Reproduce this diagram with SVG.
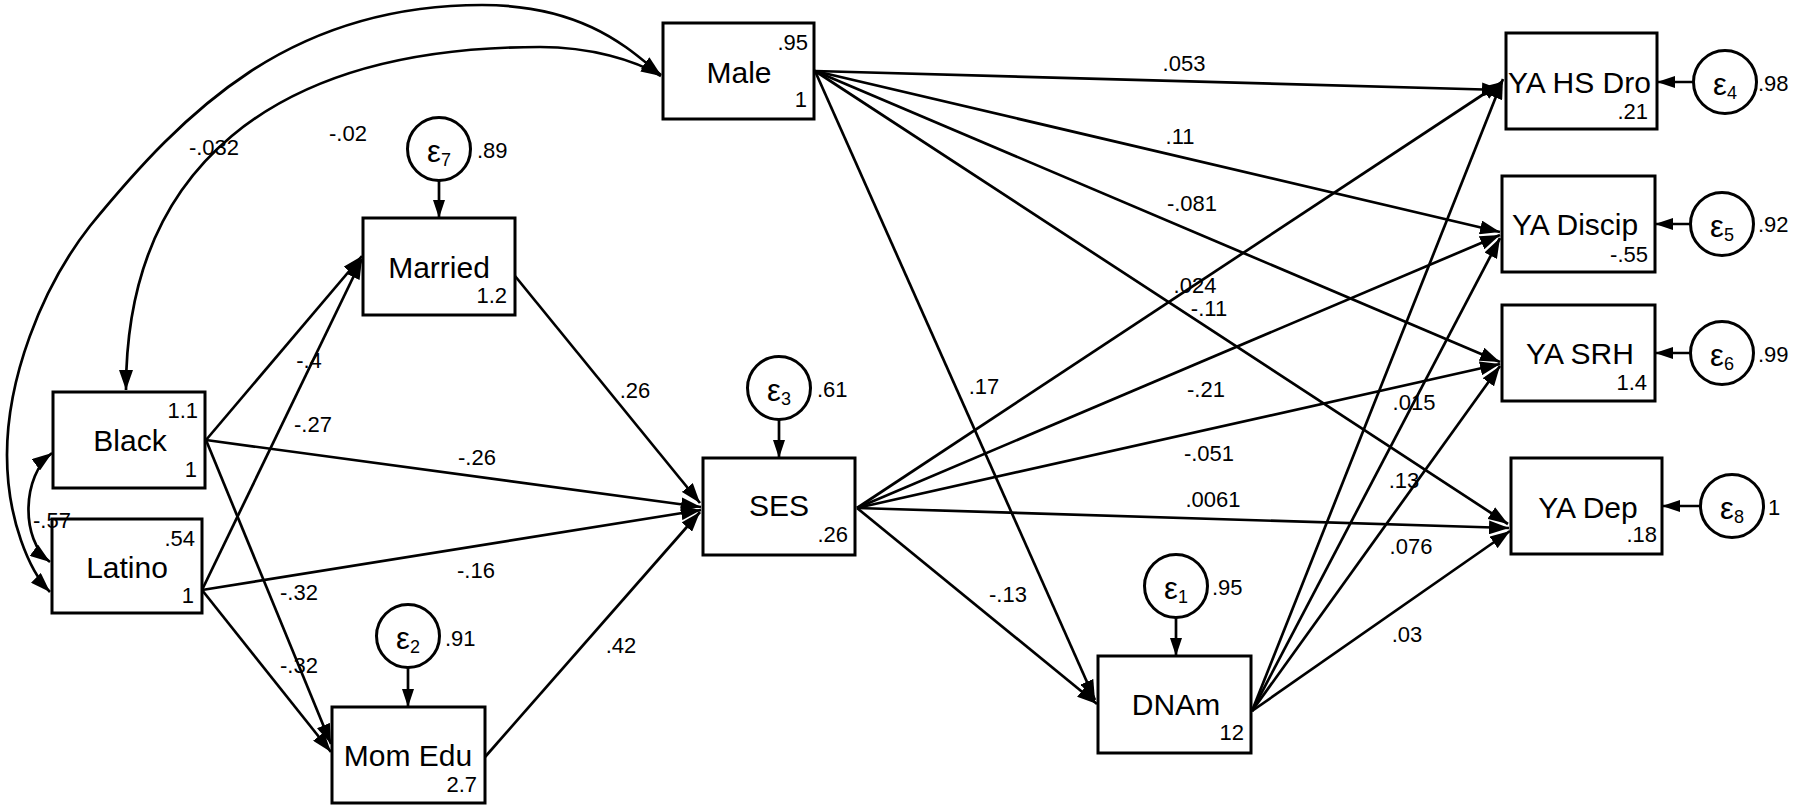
<svg xmlns="http://www.w3.org/2000/svg" width="1800" height="810" viewBox="0 0 1800 810">
<defs>
<style>
text{font-family:"Liberation Sans",Arial,Helvetica,sans-serif;fill:#000}
.box{fill:#fff;stroke:#000;stroke-width:3}
.res{fill:#fff;stroke:#000;stroke-width:3}
.p{fill:none;stroke:#000;stroke-width:2.7;marker-end:url(#ah)}
.cov{fill:none;stroke:#000;stroke-width:2.7;marker-start:url(#ah);marker-end:url(#ah)}
.r{fill:none;stroke:#000;stroke-width:2.7;marker-end:url(#ahs)}
.name{font-size:30px;text-anchor:middle}
.nameS{font-size:30px;text-anchor:start}
.num{font-size:22px;text-anchor:end}
.lab{font-size:22px;text-anchor:middle}
.var{font-size:22px;text-anchor:start}
.eps{font-size:31px;text-anchor:middle}
.sub{font-size:18px}
</style>
<marker id="ah" viewBox="0 0 20 14" refX="20" refY="7" markerWidth="20" markerHeight="14" markerUnits="userSpaceOnUse" orient="auto-start-reverse"><path d="M0,0 L20,7 L0,14 z" fill="#000"/></marker>
<marker id="ahs" viewBox="0 0 18 12" refX="18" refY="6" markerWidth="18" markerHeight="12" markerUnits="userSpaceOnUse" orient="auto"><path d="M0,0 L18,6 L0,12 z" fill="#000"/></marker>
</defs>
<rect width="1800" height="810" fill="#fff"/>

<g id="connectors">
  <!-- covariances -->
  <path class="cov" d="M50,592 C30,572 7,520 7,455 C7,380 40,290 90,226 C185,110 290,5 482,5 C590,5 635,55 661,75"/>
  <path class="cov" d="M126,390 C126,170 270,47 540,47 C590,47 635,60 661,76"/>
  <path class="cov" d="M52,453 C22,475 20,540 50,562"/>
  <!-- Black paths -->
  <line class="p" x1="206" y1="440" x2="362" y2="256"/>
  <line class="p" x1="206" y1="440" x2="701" y2="507"/>
  <line class="p" x1="206" y1="440" x2="331" y2="744"/>
  <!-- Latino paths -->
  <line class="p" x1="202" y1="590" x2="362" y2="259"/>
  <line class="p" x1="202" y1="590" x2="701" y2="510"/>
  <line class="p" x1="202" y1="590" x2="331" y2="752"/>
  <!-- Married, Mom Edu to SES -->
  <line class="p" x1="515" y1="276" x2="700" y2="503"/>
  <line class="p" x1="485" y1="757" x2="700" y2="512"/>
  <!-- Male paths -->
  <line class="p" x1="815" y1="71" x2="1502" y2="90"/>
  <line class="p" x1="815" y1="71" x2="1500" y2="232"/>
  <line class="p" x1="815" y1="71" x2="1500" y2="362"/>
  <line class="p" x1="815" y1="71" x2="1508" y2="524"/>
  <line class="p" x1="815" y1="71" x2="1095" y2="700"/>
  <!-- SES paths -->
  <line class="p" x1="857" y1="508" x2="1502" y2="82"/>
  <line class="p" x1="857" y1="508" x2="1500" y2="235"/>
  <line class="p" x1="857" y1="508" x2="1500" y2="364"/>
  <line class="p" x1="857" y1="508" x2="1509" y2="528"/>
  <line class="p" x1="857" y1="508" x2="1097" y2="704"/>
  <!-- DNAm paths -->
  <line class="p" x1="1252" y1="711" x2="1503" y2="79"/>
  <line class="p" x1="1252" y1="711" x2="1500" y2="238"/>
  <line class="p" x1="1252" y1="711" x2="1500" y2="366"/>
  <line class="p" x1="1252" y1="711" x2="1510" y2="531"/>
  <!-- residual arrows -->
  <line class="r" x1="439" y1="181" x2="439" y2="218"/>
  <line class="r" x1="779" y1="419" x2="779" y2="458"/>
  <line class="r" x1="408" y1="667" x2="408" y2="707"/>
  <line class="r" x1="1176" y1="617" x2="1176" y2="656"/>
  <line class="r" x1="1694" y1="82" x2="1657" y2="82"/>
  <line class="r" x1="1691" y1="224" x2="1655" y2="224"/>
  <line class="r" x1="1691" y1="353" x2="1655" y2="353"/>
  <line class="r" x1="1701" y1="506" x2="1662" y2="506"/>
</g>

<g id="node-male">
  <rect class="box" x="663" y="23" width="151" height="96"/>
  <text class="name" x="739" y="83">Male</text>
  <text class="num" x="808" y="50">.95</text>
  <text class="num" x="807" y="107">1</text>
</g>
<g id="node-married">
  <rect class="box" x="363" y="218" width="152" height="97"/>
  <text class="name" x="439" y="278">Married</text>
  <text class="num" x="507" y="303">1.2</text>
</g>
<g id="node-black">
  <rect class="box" x="53" y="392" width="152" height="96"/>
  <text class="name" x="130" y="451">Black</text>
  <text class="num" x="198" y="418">1.1</text>
  <text class="num" x="197" y="477">1</text>
</g>
<g id="node-latino">
  <rect class="box" x="52" y="519" width="150" height="94"/>
  <text class="name" x="127" y="578">Latino</text>
  <text class="num" x="195" y="546">.54</text>
  <text class="num" x="194" y="603">1</text>
</g>
<g id="node-ses">
  <rect class="box" x="703" y="458" width="152" height="97"/>
  <text class="name" x="779" y="516">SES</text>
  <text class="num" x="848" y="542">.26</text>
</g>
<g id="node-momedu">
  <rect class="box" x="332" y="707" width="153" height="96"/>
  <text class="name" x="408" y="766">Mom Edu</text>
  <text class="num" x="477" y="792">2.7</text>
</g>
<g id="node-dnam">
  <rect class="box" x="1098" y="656" width="153" height="97"/>
  <text class="name" x="1176" y="715">DNAm</text>
  <text class="num" x="1244" y="740">12</text>
</g>
<g id="node-yahsdrop">
  <rect class="box" x="1506" y="33" width="151" height="96"/>
  <text class="nameS" x="1508" y="93">YA HS Dro</text>
  <text class="num" x="1648" y="119">.21</text>
</g>
<g id="node-yadiscip">
  <rect class="box" x="1502" y="176" width="153" height="96"/>
  <text class="nameS" x="1512" y="235">YA Discip</text>
  <text class="num" x="1648" y="262">-.55</text>
</g>
<g id="node-yasrh">
  <rect class="box" x="1502" y="305" width="153" height="96"/>
  <text class="name" x="1580" y="364">YA SRH</text>
  <text class="num" x="1647" y="390">1.4</text>
</g>
<g id="node-yadep">
  <rect class="box" x="1511" y="458" width="151" height="96"/>
  <text class="name" x="1588" y="518">YA Dep</text>
  <text class="num" x="1657" y="542">.18</text>
</g>

<g id="res-e7">
  <circle class="res" cx="439" cy="149" r="31.5"/>
  <text class="eps" x="439" y="162">ε<tspan class="sub" dy="4">7</tspan></text>
  <text class="var" x="477" y="158">.89</text>
</g>
<g id="res-e3">
  <circle class="res" cx="779" cy="388" r="31.5"/>
  <text class="eps" x="779" y="401">ε<tspan class="sub" dy="4">3</tspan></text>
  <text class="var" x="817" y="397">.61</text>
</g>
<g id="res-e2">
  <circle class="res" cx="408" cy="636" r="31.5"/>
  <text class="eps" x="408" y="649">ε<tspan class="sub" dy="4">2</tspan></text>
  <text class="var" x="445" y="646">.91</text>
</g>
<g id="res-e1">
  <circle class="res" cx="1176" cy="586" r="31.5"/>
  <text class="eps" x="1176" y="599">ε<tspan class="sub" dy="4">1</tspan></text>
  <text class="var" x="1212" y="595">.95</text>
</g>
<g id="res-e4">
  <circle class="res" cx="1725" cy="82" r="31.5"/>
  <text class="eps" x="1725" y="95">ε<tspan class="sub" dy="4">4</tspan></text>
  <text class="var" x="1758" y="91">.98</text>
</g>
<g id="res-e5">
  <circle class="res" cx="1722" cy="224" r="31.5"/>
  <text class="eps" x="1722" y="237">ε<tspan class="sub" dy="4">5</tspan></text>
  <text class="var" x="1758" y="232">.92</text>
</g>
<g id="res-e6">
  <circle class="res" cx="1722" cy="353" r="31.5"/>
  <text class="eps" x="1722" y="366">ε<tspan class="sub" dy="4">6</tspan></text>
  <text class="var" x="1758" y="362">.99</text>
</g>
<g id="res-e8">
  <circle class="res" cx="1732" cy="506" r="31.5"/>
  <text class="eps" x="1732" y="519">ε<tspan class="sub" dy="4">8</tspan></text>
  <text class="var" x="1768" y="515">1</text>
</g>

<g id="path-labels">
  <text class="lab" x="214" y="155">-.032</text>
  <text class="lab" x="348" y="141">-.02</text>
  <text class="lab" x="309" y="368">-.4</text>
  <text class="lab" x="313" y="432">-.27</text>
  <text class="lab" x="635" y="398">.26</text>
  <text class="lab" x="477" y="465">-.26</text>
  <text class="lab" x="476" y="578">-.16</text>
  <text class="lab" x="299" y="600">-.32</text>
  <text class="lab" x="299" y="673">-.32</text>
  <text class="lab" x="621" y="653">.42</text>
  <text class="lab" x="52" y="528">-.57</text>
  <text class="lab" x="1184" y="71">.053</text>
  <text class="lab" x="1180" y="144">.11</text>
  <text class="lab" x="1192" y="211">-.081</text>
  <text class="lab" x="1195" y="293">.024</text>
  <text class="lab" x="1209" y="316">-.11</text>
  <text class="lab" x="984" y="394">.17</text>
  <text class="lab" x="1206" y="397">-.21</text>
  <text class="lab" x="1209" y="461">-.051</text>
  <text class="lab" x="1213" y="507">.0061</text>
  <text class="lab" x="1414" y="410">.015</text>
  <text class="lab" x="1404" y="488">.13</text>
  <text class="lab" x="1411" y="554">.076</text>
  <text class="lab" x="1407" y="642">.03</text>
  <text class="lab" x="1008" y="602">-.13</text>
</g>
</svg>
